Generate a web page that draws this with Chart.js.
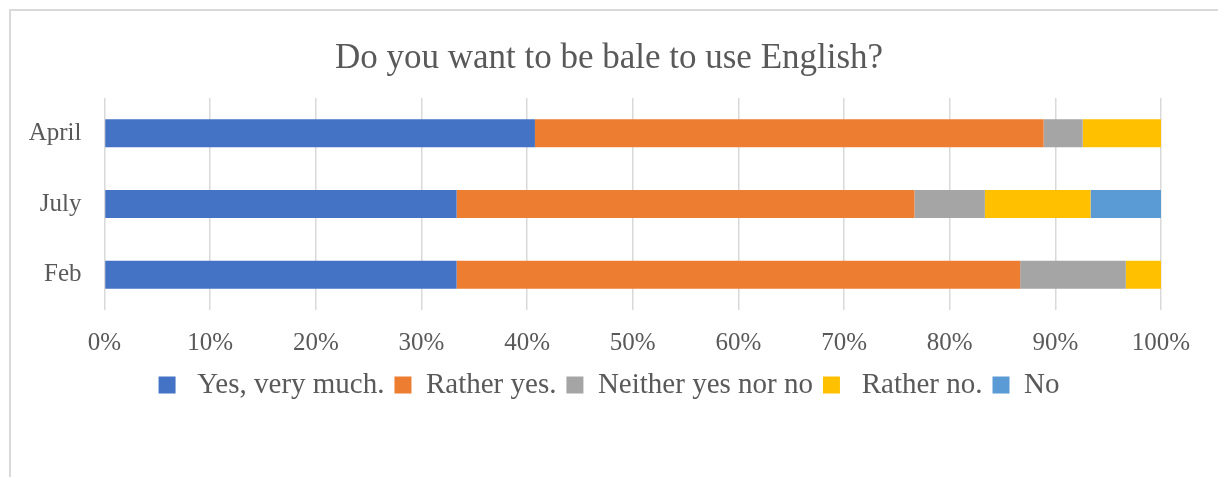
<!DOCTYPE html>
<html>
<head>
<meta charset="utf-8">
<script src="https://cdn.jsdelivr.net/npm/chart.js@4"></script>
<style>
  html, body { margin: 0; padding: 0; background: #ffffff; overflow: hidden; }
  #frame { position: absolute; left: 9px; top: 9px; width: 1300px; height: 600px;
           border-top: 2px solid #D9D9D9; border-left: 2px solid #D9D9D9; }
  #c { position: absolute; left: 0; top: 0; }
</style>
</head>
<body>
<div id="frame"></div>
<canvas id="c" width="1218" height="477"></canvas>
<script>
const chartTitle = 'Do you want to be bale to use English?';
const categories = ['April', 'July', 'Feb'];
const seriesNames = [' Yes, very much.', 'Rather yes.', 'Neither yes nor no', ' Rather no.', 'No'];
const yesVeryMuch = [40.74, 33.33, 33.33];
const ratherYes   = [48.15, 43.33, 53.34];
const neither     = [3.70, 6.67, 10.00];
const ratherNo    = [7.41, 10.00, 3.33];
const no          = [0.00, 6.67, 0.00];
const tickLabels = ['0%', '10%', '20%', '30%', '40%', '50%', '60%', '70%', '80%', '90%', '100%'];
const seriesColors = ['#4472C4', '#ED7D31', '#A5A5A5', '#FFC000', '#5B9BD5'];

const FONT = "'Liberation Serif', 'DejaVu Serif', serif";
const TEXT = '#595959';

const seriesValues = [yesVeryMuch, ratherYes, neither, ratherNo, no];
const datasets = seriesNames.map((name, i) => ({
  label: name,
  data: seriesValues[i],
  backgroundColor: seriesColors[i],
  borderWidth: 0,
  barPercentage: 1.0,
  categoryPercentage: 0.396
}));

new Chart(document.getElementById('c'), {
  type: 'bar',
  data: { labels: categories, datasets },
  options: {
    indexAxis: 'y',
    responsive: false,
    animation: false,
    devicePixelRatio: 1,
    layout: { padding: { left: 0, right: 0, top: 0, bottom: 67.5 } },
    plugins: {
      title: {
        display: true,
        text: chartTitle,
        color: TEXT,
        font: { family: FONT, size: 35, weight: 'normal' },
        padding: { top: 38, bottom: 18 }
      },
      legend: {
        position: 'bottom',
        labels: {
          color: TEXT,
          font: { family: FONT, size: 29 },
          boxWidth: 17,
          boxHeight: 17,
          padding: 10
        }
      },
      tooltip: { enabled: false }
    },
    scales: {
      x: {
        stacked: true,
        min: 0,
        max: 100,
        ticks: {
          stepSize: 10,
          autoSkip: false,
          maxRotation: 0,
          color: TEXT,
          font: { family: FONT, size: 25 },
          padding: 18,
          callback: (v, i) => tickLabels[i]
        },
        grid: { color: '#D9D9D9', lineWidth: 1.5, drawTicks: false },
        border: { display: false },
        afterFit: (s) => { s.height = 50.5; }
      },
      y: {
        stacked: true,
        ticks: {
          color: TEXT,
          font: { family: FONT, size: 25 },
          padding: 23
        },
        grid: { display: false, drawTicks: false },
        border: { display: false },
        afterFit: (s) => { s.width = 104.5; }
      },
      yRightSpace: {
        type: 'category',
        position: 'right',
        display: true,
        labels: categories,
        ticks: { display: false },
        grid: { display: false, drawTicks: false },
        border: { display: false },
        afterFit: (s) => { s.width = 57; }
      }
    }
  }
});
</script>
</body>
</html>
